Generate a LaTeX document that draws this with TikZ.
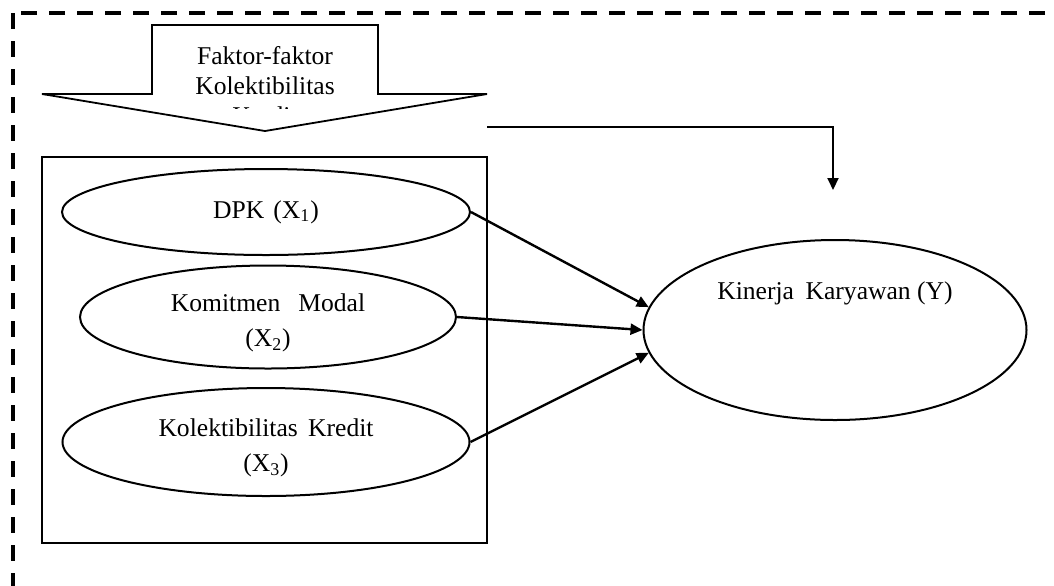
\documentclass[tikz,border=0pt]{standalone}
\usepackage{fontspec}
\setmainfont{Liberation Serif}
\usetikzlibrary{arrows.meta,shapes.geometric}

\begin{document}
\begin{tikzpicture}[x=0.5pt, y=-0.5pt, >={Triangle[length=6pt,width=5.5pt]},
    every node/.style={font=\fontsize{12.8}{17.5}\selectfont, align=center},
    var/.style={draw, ellipse, line width=1pt, inner sep=0pt}]
  \useasboundingbox (0,0) rectangle (1054,585);
  \clip (0,0) rectangle (1054,585);
  % outer frame
  \draw[line width=2pt, dash pattern=on 8pt off 6pt] (13,13) rectangle (1080,610);

  % factor arrow
  \draw[line width=0.9pt, fill=white] (152,25) -- (378,25) -- (378,94) -- (487,94) -- (265,131)
    -- (42,94) -- (152,94) -- cycle;
  \begin{scope}
    \clip (152,25) rectangle (378,108);
    \node[font=\fontsize{12.8}{15}\selectfont] (faktor) at (265,86) {Faktor-faktor\\Kolektibilitas\\Kredit};
  \end{scope}

  % variables
  \draw[line width=0.9pt] (42,157) rectangle (487,543);
  \node[var, minimum width=204pt, minimum height=43pt] (dpk) at (266,212) {DPK\hspace{0.35em}(X\textsubscript{1})};
  \node[var, minimum width=188pt, minimum height=51.5pt, text height=32.5pt] (modal) at (268,317) {Komitmen\hspace{0.7em}Modal\\(X\textsubscript{2})};
  \node[var, minimum width=203.5pt, minimum height=54pt, text height=32.5pt] (kredit) at (266,442) {Kolektibilitas\hspace{0.4em}Kredit\\(X\textsubscript{3})};
  \node[var, minimum width=191.5pt, minimum height=90pt, text depth=39pt] (kinerja) at (835,330) {Kinerja\hspace{0.45em}Karyawan (Y)};

  \coordinate (faktor-out) at (487,127);
  \coordinate (kinerja-in) at (833,190);

  \draw[->, line width=1pt] (faktor-out) -| (kinerja-in);
  \draw[->, line width=1.2pt] (dpk.east) -- (kinerja.173);
  \draw[->, line width=1.2pt] (modal.east) -- (kinerja.180);
  \draw[->, line width=1.2pt] (kredit.east) -- (kinerja.187);
\end{tikzpicture}
\end{document}
